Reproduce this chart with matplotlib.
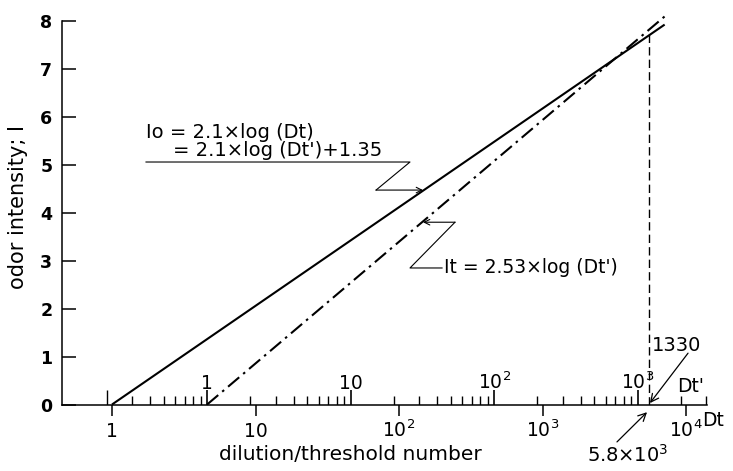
import numpy as np
import matplotlib
matplotlib.use("Agg")
import matplotlib.pyplot as plt
from matplotlib.ticker import NullLocator, FixedLocator

# ---------------- data ----------------
# solid line: Io = 2.1 x log(Dt)
io_dt = [1.0, 7100.0]
io_val = [0.0, 7.92]
# dash-dot line: It = 2.53 x log(Dt')
it_dt = [4.6, 7500.0]
it_val = [0.0, 8.15]
# meeting point (5.8x10^3 on Dt, 1330 on Dt')
meet_dt = 5500.0
meet_top = 7.75
# Dt' scale: Dt' = 1 sits at Dt = 4.6
dtp_factor = 4.6
dtp_major = [1, 10, 100, 1000]
dtp_major_labels = ["1", "10", r"$\mathregular{10^2}$", r"$\mathregular{10^3}$"]
dtp_minor = [0.3, 0.4, 0.5, 0.6, 0.7, 0.8, 0.9,
             2, 3, 4, 5, 6, 7, 8, 9,
             20, 30, 40, 50, 60, 70, 80, 90,
             200, 300, 400, 500, 600, 700, 800, 900,
             2000, 3000]
dtp_long_minor = [0.2]
# Dt scale
dt_major = [1, 10, 100, 1000, 10000]
dt_major_labels = ["1", "10", r"$\mathregular{10^2}$", r"$\mathregular{10^3}$", r"$\mathregular{10^4}$"]
y_ticks = [0, 1, 2, 3, 4, 5, 6, 7, 8]

# ---------------- figure ----------------
W, H = 733, 471
fig = plt.figure(figsize=(W / 100, H / 100), dpi=100)
x0_px, y0_px = 62, 404.5
ax = fig.add_axes([x0_px / W, (H - y0_px) / H, (720 - x0_px) / W, 8.4 * 47.97 / H])
ax.set_xscale("log")
dec_px = 143.5
ax.set_xlim(10 ** ((x0_px - 112) / dec_px), 10 ** ((720 - 112) / dec_px))
ax.set_ylim(0, 8.4)

for s in ("top", "right"):
    ax.spines[s].set_visible(False)
ax.spines["left"].set_bounds(0, 8)
ax.spines["bottom"].set_bounds(10 ** ((x0_px - 112) / dec_px), 14000)
ax.spines["left"].set_linewidth(1.1)
ax.spines["bottom"].set_linewidth(1.1)

ax.set_yticks(y_ticks)
ax.tick_params(axis="y", direction="in", length=10, width=1.1, pad=7,
               labelsize=12.5)
for lab in ax.get_yticklabels():
    lab.set_fontweight("bold")

ax.xaxis.set_major_locator(FixedLocator(dt_major))
ax.xaxis.set_minor_locator(NullLocator())
ax.set_xticklabels([])
ax.tick_params(axis="x", direction="out", length=8, width=1.1)

# Dt labels
for v, lab in zip(dt_major, dt_major_labels):
    ax.text(v, -0.68, lab, ha="center", va="baseline", fontsize=13.5, clip_on=False)
ax.text(12900, -0.45, "Dt", ha="left", va="baseline", fontsize=13.5, clip_on=False)

# Dt' ticks (upwards from the axis)
ax.vlines([v * dtp_factor for v in dtp_minor], 0, 0.17, color="black", lw=1.0)
ax.vlines([v * dtp_factor for v in dtp_long_minor], 0, 0.3, color="black", lw=1.0)
ax.vlines([v * dtp_factor for v in dtp_major], 0, 0.3, color="black", lw=1.2)
for v, lab in zip(dtp_major, dtp_major_labels):
    ax.text(v * dtp_factor, 0.33, lab, ha="center", va="baseline", fontsize=13.5)
ax.text(8650, 0.27, "Dt'", ha="left", va="baseline", fontsize=13.5, clip_on=False)

# lines
ax.plot(io_dt, io_val, color="black", lw=1.5, solid_capstyle="butt", clip_on=False)
ax.plot(it_dt, it_val, color="black", lw=1.5, linestyle=(0, (7, 2.5, 1.2, 2.5)),
        clip_on=False)
ax.plot([meet_dt, meet_dt], [0, meet_top], color="black", lw=1.0,
        linestyle=(0, (6, 3)))

# annotation 1: Io
ax.text(1.726, 5.56, "Io = 2.1×log (Dt)", ha="left", va="baseline", fontsize=14)
ax.text(2.66, 5.17, "= 2.1×log (Dt')+1.35", ha="left", va="baseline", fontsize=14)
ax.plot([1.726, 119.3, 69.2], [5.055, 5.055, 4.47], color="black", lw=0.8)
ax.annotate("", xy=(147, 4.47), xytext=(69.2, 4.47),
            arrowprops=dict(arrowstyle="->", lw=0.8, color="black",
                            shrinkA=0, shrinkB=0))

# annotation 2: It
ax.annotate("", xy=(147, 3.80), xytext=(245.6, 3.80),
            arrowprops=dict(arrowstyle="->", lw=0.8, color="black",
                            shrinkA=0, shrinkB=0))
ax.plot([245.6, 119.3, 199.5], [3.80, 2.846, 2.846], color="black", lw=0.8)
ax.text(206, 2.846, "It = 2.53×log (Dt')", ha="left", va="center", fontsize=13.5)

# annotation 3: 1330
ax.text(8650, 1.24, "1330", ha="center", va="center", fontsize=14, clip_on=False)
ax.annotate("", xy=(5610, 0.03), xytext=(10330, 1.07), annotation_clip=False,
            arrowprops=dict(arrowstyle="->", lw=0.9, color="black",
                            shrinkA=0, shrinkB=0, mutation_scale=14))
# annotation 4: 5.8x10^3
ax.text(3945, -1.05, r"5.8×$\mathregular{10^3}$", ha="center", va="center",
        fontsize=14, clip_on=False)
ax.annotate("", xy=(5350, -0.16), xytext=(3304, -0.78), annotation_clip=False,
            arrowprops=dict(arrowstyle="->", lw=0.9, color="black",
                            shrinkA=0, shrinkB=0, mutation_scale=14))

# axis labels
ax.set_ylabel("odor intensity; I", fontsize=15)
ax.yaxis.set_label_coords((28 - x0_px) / (720 - x0_px), 0.49)
fig.text(350 / W, 1 - 455 / H, "dilution/threshold number", ha="center",
         va="center", fontsize=14.5)

fig.savefig("out.png", dpi=100)
